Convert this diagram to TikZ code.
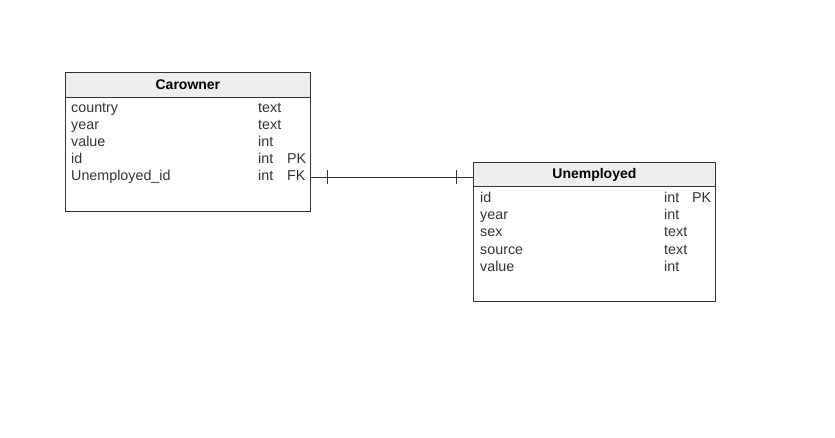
\documentclass[tikz,border=0pt]{standalone}
\usepackage{fontspec}
\setmainfont{Liberation Sans}
\usepackage{tikz}
\usetikzlibrary{positioning}

\definecolor{lineclr}{HTML}{333333}
\definecolor{headclr}{HTML}{EEEEEE}

\begin{document}
\begin{tikzpicture}[
  x=1pt,y=-1pt,
  tablebox/.style={draw=lineclr, thick, anchor=north west, inner sep=0pt,
    minimum width=245pt, minimum height=139pt},
  tablehead/.style={draw=lineclr, thick, fill=headclr, anchor=north west,
    inner sep=0pt, minimum width=245pt, minimum height=25pt,
    font=\fontsize{14}{16}\selectfont\bfseries, text=black},
  field/.style={anchor=west, inner sep=0pt, text=lineclr,
    text height=10pt, text depth=3pt,
    font=\fontsize{14.3}{16}\selectfont},
  link/.style={draw=lineclr, thick}
]
\useasboundingbox (0,0) rectangle (835,437);

% Carowner
\node[tablebox] (car) at (65,72) {};
\node[tablehead] (carhead) at (65,72) {Carowner};
\node[field] (carcountry) at (71,108.5) {country};
\node[field] (caryear) at (71,125.5) {year};
\node[field] (carvalue) at (71,142.5) {value};
\node[field] (carid) at (71,159.5) {id};
\node[field] (carfk) at (71,177) {Unemployed\_id};
\node[field] at (258,108.5) {text};
\node[field] at (258,125.5) {text};
\node[field] at (258,142.5) {int};
\node[field] at (258,159.5) {int};
\node[field] at (258,177) {int};
\node[field] at (287,159.5) {PK};
\node[field] at (287,177) {FK};

% Unemployed
\node[tablebox, minimum width=242pt] (unemp) at (473,162) {};
\node[tablehead, minimum width=242pt, minimum height=24pt] (unemphead) at (473,162) {Unemployed};
\node[field] (unid) at (480,198.5) {id};
\node[field] (unyear) at (480,216) {year};
\node[field] (unsex) at (480,233) {sex};
\node[field] (unsource) at (480,250.5) {source};
\node[field] (unvalue) at (480,268) {value};
\node[field] at (664,198.5) {int};
\node[field] at (664,216) {int};
\node[field] at (664,233) {text};
\node[field] at (664,250.5) {text};
\node[field] at (664,268) {int};
\node[field] at (692,198.5) {PK};

% relation
\coordinate (relA) at (car.east |- carfk);
\coordinate (relB) at (unemp.west |- carfk);
\draw[link] (relA) -- (relB);
\draw[link] ([xshift=17pt]relA) ++(0,-7) -- ++(0,14);
\draw[link] ([xshift=-17pt]relB) ++(0,-7) -- ++(0,14);
\end{tikzpicture}
\end{document}
